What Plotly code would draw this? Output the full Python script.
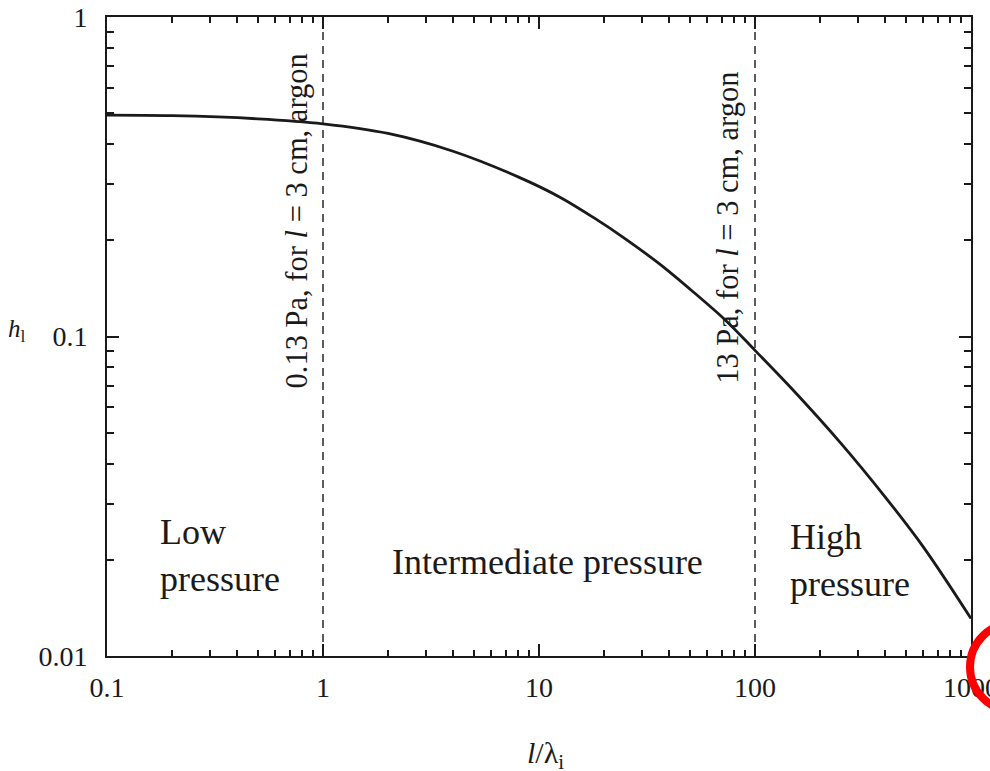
import numpy as np
import plotly.graph_objects as go

# Curve (l/lambda_i vs h_l)
x_ratio = [0.1, 0.2, 0.5, 1, 2, 4, 8, 12.5, 18, 25, 36, 52, 74, 100,
           150, 250, 400, 600, 1000]
h_l = [0.493, 0.491, 0.480, 0.463, 0.432, 0.380, 0.316, 0.273, 0.235, 0.2025,
       0.169, 0.1375, 0.1115, 0.0905, 0.0680, 0.0463, 0.0315, 0.0220, 0.0131]

# Pressure boundaries (dashed lines)
boundaries = [1, 100]
boundary_labels = ["0.13 Pa, for <i>l</i> = 3 cm, argon", "13 Pa, for <i>l</i> = 3 cm, argon"]

x_ticks = [0.1, 1, 10, 100, 1000]
x_ticktext = ["0.1", "1", "10", "100", "1000"]
y_ticks = [0.01, 0.1, 1]
y_ticktext = ["0.01", "0.1", "1"]

x_minor = [m * 10.0 ** e for e in range(-1, 3) for m in range(2, 10)]
y_minor = [m * 10.0 ** e for e in range(-2, 0) for m in range(2, 10)]

FONT = "Liberation Serif"
INK = "#1a1a1a"

fig = go.Figure()
for b in boundaries:
    fig.add_trace(go.Scatter(x=[b, b], y=[0.01, 1], mode="lines",
                             line=dict(color=INK, width=1.4, dash="8px,6px"),
                             showlegend=False, hoverinfo="skip"))
fig.add_trace(go.Scatter(x=x_ratio, y=h_l, mode="lines", line_shape="spline",
                         line=dict(color=INK, width=2.8), showlegend=False))

axis_common = dict(type="log", showline=True, linecolor=INK, linewidth=2,
                   ticks="inside", ticklen=12, tickwidth=2, tickcolor=INK,
                   mirror="allticks", showgrid=False, zeroline=False,
                   ticklabeloverflow="allow", automargin=False,
                   tickfont=dict(family=FONT, size=28, color=INK))

fig.update_xaxes(**axis_common, range=[-1, 3], tickmode="array",
                 tickvals=x_ticks, ticktext=x_ticktext, ticklabelstandoff=5,
                 minor=dict(tickmode="array", tickvals=x_minor, ticks="inside",
                            ticklen=6, tickwidth=2, tickcolor=INK, showgrid=False))
fig.update_yaxes(**axis_common, range=[-2, 0], tickmode="array",
                 tickvals=y_ticks, ticktext=y_ticktext, ticklabelstandoff=12,
                 minor=dict(tickmode="array", tickvals=y_minor, ticks="inside",
                            ticklen=7, tickwidth=2, tickcolor=INK, showgrid=False))

ann_font = dict(family=FONT, size=36, color=INK)
rot_font = dict(family=FONT, size=30.5, color=INK)

annotations = [
    dict(x=np.log10(0.76), y=-0.639, text=boundary_labels[0], textangle=-90,
         showarrow=False, font=rot_font, xanchor="center", yanchor="middle"),
    dict(x=1.875, y=-0.660, text=boundary_labels[1], textangle=-90,
         showarrow=False, font=rot_font, xanchor="center", yanchor="middle"),
    dict(x=-0.765, y=-1.684, text="Low<br>pressure", align="left",
         showarrow=False, font=ann_font, xanchor="left", yanchor="middle"),
    dict(x=0.312, y=-1.706, text="Intermediate pressure",
         showarrow=False, font=ann_font, xanchor="left", yanchor="middle"),
    dict(x=2.155, y=-1.700, text="High<br>pressure", align="left",
         showarrow=False, font=ann_font, xanchor="left", yanchor="middle"),
    dict(xref="paper", yref="paper", x=0.507, y=-0.155,
         text="<i>l</i>/λ<sub>i</sub>", showarrow=False,
         font=dict(family=FONT, size=30, color=INK), xanchor="center", yanchor="middle"),
    dict(xref="paper", yref="paper", x=-0.104, y=0.51,
         text="<i>h</i><sub>l</sub>", showarrow=False,
         font=dict(family=FONT, size=25, color=INK), xanchor="center", yanchor="middle"),
]

fig.update_layout(
    width=990, height=771,
    margin=dict(l=107, r=19, t=17, b=115, autoexpand=False),
    paper_bgcolor="white", plot_bgcolor="white",
    annotations=annotations,
    shapes=[dict(type="circle", xref="paper", yref="paper",
                 x0=(970 - 107) / 864, x1=(1058 - 107) / 864,
                 y0=(656 - 711) / 639, y1=(656 - 623) / 639,
                 line=dict(color="#ff0000", width=8), layer="above")],
)

fig.write_html("out.html")
